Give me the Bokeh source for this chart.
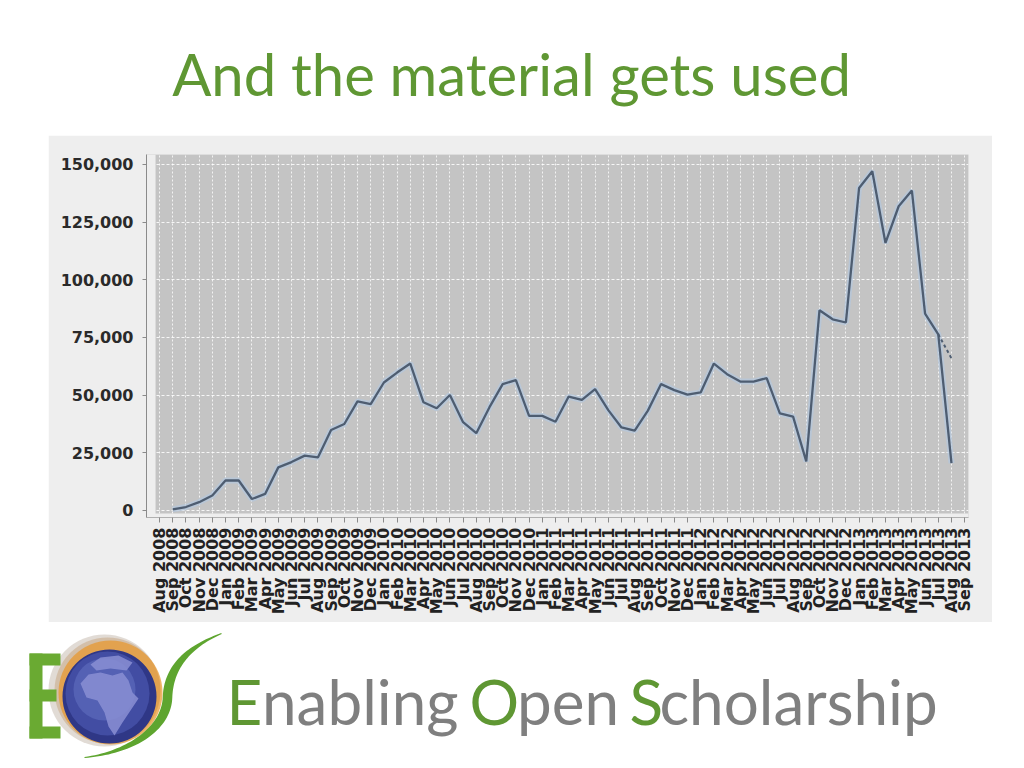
import math
import numpy as np
from bokeh.plotting import figure
from bokeh.models import (Range1d, FixedTicker, NumeralTickFormatter, BoxAnnotation,
                          ColumnDataSource, Spacer)
from bokeh.layouts import column, row
from bokeh.core.properties import value
from bokeh.embed import file_html
from bokeh.resources import INLINE

# ---------------- data ----------------
title_text = "And the material gets used"

months = [
    "Aug 2008", "Sep 2008", "Oct 2008", "Nov 2008", "Dec 2008",
    "Jan 2009", "Feb 2009", "Mar 2009", "Apr 2009", "May 2009", "Jun 2009",
    "Jul 2009", "Aug 2009", "Sep 2009", "Oct 2009", "Nov 2009", "Dec 2009",
    "Jan 2010", "Feb 2010", "Mar 2010", "Apr 2010", "May 2010", "Jun 2010",
    "Jul 2010", "Aug 2010", "Sep 2010", "Oct 2010", "Nov 2010", "Dec 2010",
    "Jan 2011", "Feb 2011", "Mar 2011", "Apr 2011", "May 2011", "Jun 2011",
    "Jul 2011", "Aug 2011", "Sep 2011", "Oct 2011", "Nov 2011", "Dec 2011",
    "Jan 2012", "Feb 2012", "Mar 2012", "Apr 2012", "May 2012", "Jun 2012",
    "Jul 2012", "Aug 2012", "Sep 2012", "Oct 2012", "Nov 2012", "Dec 2012",
    "Jan 2013", "Feb 2013", "Mar 2013", "Apr 2013", "May 2013", "Jun 2013",
    "Jul 2013", "Aug 2013", "Sep 2013",
]

# monthly downloads, None where no value is plotted
downloads = [
    None, 500, 1500, 3600, 6500,
    13000, 13000, 5000, 7200, 18700, 21000,
    23800, 23000, 34900, 37500, 47300, 46100,
    55500, 59800, 63700, 46900, 44300, 50100,
    38300, 33500, 44800, 54800, 56500, 41000,
    41000, 38500, 49400, 48000, 52600, 43500,
    36000, 34600, 43300, 54800, 52200, 50200,
    51200, 63700, 59100, 55900, 55900, 57400,
    42100, 40700, 21300, 86800, 82900, 81500,
    139800, 147100, 116000, 131900, 138700, 85300,
    76400, 20500, None,
]

# dotted projection for the last month
proj_months = ["Jul 2013", "Aug 2013"]
proj_values = [76400, 66000]

y_ticks = [0, 25000, 50000, 75000, 100000, 125000, 150000]

# ---------------- styles ----------------
GREEN = "#5f9733"
GRAY_TXT = "#7f7f7f"
PANEL = "#eeeeee"
PLOT_BG = "#c4c4c4"
LINE = "#4e5d71"
HALO = "#b4c7dc"

# ---------------- title ----------------
title_fig = figure(width=1024, height=135, x_range=Range1d(0, 1024), y_range=Range1d(135, 0),
                   x_axis_type=None, y_axis_type=None, toolbar_location=None,
                   output_backend="svg", min_border=0, outline_line_color=None,
                   background_fill_color="white", border_fill_color="white")
title_fig.text(x=[511], y=[73], text=[title_text], text_font=value("Lato"),
               text_font_size="58px", text_color=GREEN, text_align="center",
               text_baseline="alphabetic")

# ---------------- chart ----------------
xs = [months.index(m) for m in months]
ys = [float("nan") if v is None else v for v in downloads]
src = ColumnDataSource(dict(x=xs, y=ys, month=months))
proj_x = [months.index(m) for m in proj_months]

chart = figure(width=944, height=487, x_range=Range1d(-0.985, 61.29),
               y_range=Range1d(-3035, 154335), toolbar_location=None,
               output_backend="svg", min_border_left=98, min_border_right=24,
               min_border_top=19, min_border_bottom=105,
               background_fill_color=PLOT_BG, border_fill_color=PANEL,
               outline_line_color=None)

chart.xgrid.ticker = FixedTicker(ticks=xs, minor_ticks=[])
chart.xgrid.grid_line_color = "white"
chart.xgrid.grid_line_alpha = 0.8
chart.xgrid.grid_line_dash = "2 2"
chart.xgrid.grid_line_width = 1
chart.ygrid.ticker = FixedTicker(ticks=y_ticks, minor_ticks=[])
chart.ygrid.grid_line_color = "white"
chart.ygrid.grid_line_alpha = 0.85
chart.ygrid.grid_line_dash = "3 2"

# offset strips between the axes and the plot area
chart.add_layout(BoxAnnotation(right=-0.3, fill_color=PANEL, fill_alpha=1,
                               line_color=None, level="underlay"))
chart.add_layout(BoxAnnotation(top=-1300, fill_color=PANEL, fill_alpha=1,
                               line_color=None, level="underlay"))

chart.line("x", "y", source=src, line_width=6, line_color=HALO, line_alpha=0.75)
chart.line("x", "y", source=src, line_width=2.3, line_color=LINE)
chart.line(proj_x, proj_values, line_width=2, line_color=LINE, line_dash="3 3")

yax = chart.yaxis[0]
yax.ticker = FixedTicker(ticks=y_ticks, minor_ticks=[])
yax.formatter = NumeralTickFormatter(format="0,0")
yax.major_label_text_font = "DejaVu Sans"
yax.major_label_text_font_style = "bold"
yax.major_label_text_font_size = "16px"
yax.major_label_text_color = "#2a2a2a"
yax.major_tick_out = 4
yax.major_tick_in = 0
yax.minor_tick_out = 0
yax.minor_tick_in = 0
yax.axis_line_color = "#8a8a8a"
yax.major_tick_line_color = "#8a8a8a"
yax.major_label_standoff = 9

xax = chart.xaxis[0]
xax.ticker = FixedTicker(ticks=xs, minor_ticks=[])
xax.major_label_overrides = {i: m for i, m in zip(xs, months)}
xax.major_label_orientation = math.pi / 2
xax.major_label_text_font = "DejaVu Sans"
xax.major_label_text_font_style = "bold"
xax.major_label_text_font_size = "16px"
xax.major_label_text_color = "#222222"
xax.major_tick_out = 5
xax.major_tick_in = 0
xax.minor_tick_out = 0
xax.minor_tick_in = 0
xax.axis_line_color = "#b0b0b0"
xax.major_tick_line_color = "#8a8a8a"
xax.major_label_standoff = 5

# ---------------- footer ----------------
footer = figure(width=1024, height=144, x_range=Range1d(0, 1024), y_range=Range1d(766, 622),
                x_axis_type=None, y_axis_type=None, toolbar_location=None,
                output_backend="svg", min_border=0, outline_line_color=None,
                background_fill_color="white", border_fill_color="white")

# logo: halo, E, globe, swoosh
footer.circle(x=[104], y=[690], radius=56, fill_color="#d9d2cb", fill_alpha=0.8, line_color=None)
footer.circle(x=[107], y=[690], radius=53, fill_color="#c9a785", fill_alpha=0.55, line_color=None)
footer.circle(x=[110], y=[692], radius=52, fill_color="#e8962a", fill_alpha=0.7, line_color=None)

LOGO_GREEN = "#6aaa32"
footer.quad(left=[29, 29, 29, 29], right=[42, 60, 56, 60],
            top=[653, 653, 689, 726], bottom=[738, 665, 701, 738],
            fill_color=LOGO_GREEN, line_color=None)

footer.circle(x=[109], y=[696], radius=47, fill_color="#2f3786", line_color=None)
footer.circle(x=[107], y=[693], radius=42, fill_color="#424da3", line_color=None)
footer.circle(x=[104], y=[689], radius=31, fill_color="#5461b4", line_color=None)
footer.patch(x=[80, 88, 100, 112, 122, 128, 132, 138, 130, 122, 114, 108, 104, 97, 86],
             y=[683, 674, 672, 675, 672, 680, 692, 698, 710, 722, 735, 726, 712, 700, 697],
             fill_color="#8a8fd3", fill_alpha=0.85, line_color=None)
footer.patch(x=[90, 100, 118, 132, 126, 110, 96],
             y=[664, 657, 655, 662, 670, 668, 670],
             fill_color="#8a8fd3", fill_alpha=0.85, line_color=None)

def bez(p0, p1, p2, p3, n=40):
    t = np.linspace(0, 1, n)[:, None]
    return ((1 - t) ** 3) * np.array(p0) + 3 * ((1 - t) ** 2) * t * np.array(p1) \
        + 3 * (1 - t) * t ** 2 * np.array(p2) + t ** 3 * np.array(p3)

c1 = bez((221, 633), (186, 647), (168, 668), (167, 697))
c2 = bez((167, 697), (166, 728), (130, 752), (84, 757))
cl = np.vstack([c1, c2[1:]])
tt = np.linspace(0, 1, len(cl))
wd = 0.6 + 4.2 * np.sin(np.pi * tt) ** 1.3
d = np.gradient(cl, axis=0)
nrm = np.stack([-d[:, 1], d[:, 0]], axis=1)
nrm /= np.linalg.norm(nrm, axis=1)[:, None]
left_e = cl + nrm * wd[:, None]
right_e = cl - nrm * wd[:, None]
edge = np.vstack([left_e, right_e[::-1]])
footer.patch(x=edge[:, 0].tolist(), y=edge[:, 1].tolist(), fill_color="#5ea52f", line_color=None)

# "Enabling Open Scholarship" with green initials
footer_parts = ["E", "nabling", "O", "pen", "S", "cholarship"]
footer_colors = [GREEN, GRAY_TXT, GREEN, GRAY_TXT, GREEN, GRAY_TXT]
footer_x = [226, 261.5, 469, 516.5, 629, 659]
footer.text(x=footer_x, y=[700] * 6, text=footer_parts, text_color=footer_colors,
            text_font=value("Lato"), text_font_size="62px", text_align="left",
            text_baseline="alphabetic")

layout = column(title_fig,
                row(Spacer(width=48, height=487), chart, Spacer(width=32, height=487)),
                footer)

open("out.html", "w").write(file_html(layout, INLINE))
